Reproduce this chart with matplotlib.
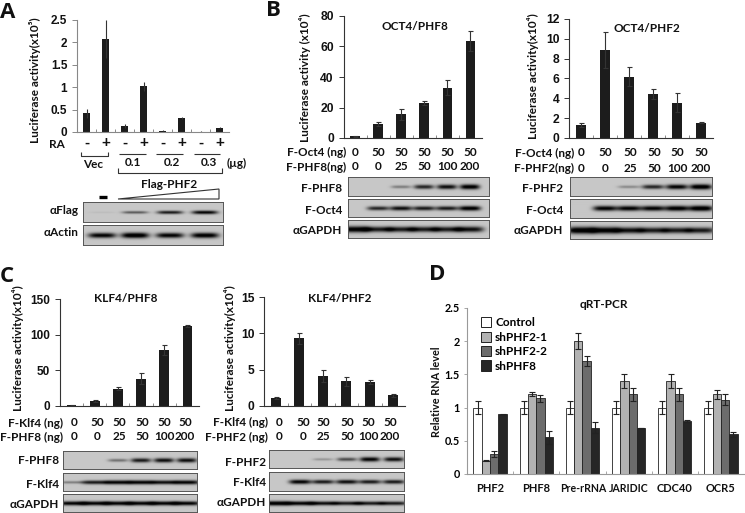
import numpy as np
import matplotlib
matplotlib.use("Agg")
import matplotlib.pyplot as plt
from matplotlib.patches import Patch, Polygon

W, H = 745, 513
SANS = ["Liberation Sans", "DejaVu Sans"]
CAL = ["Lato", "Liberation Serif", "DejaVu Sans"]
DARK = "#1c1c1c"

# panel A
a_signs = ["-", "+"] * 4
a_vals = [0.42, 2.08, 0.13, 1.02, 0.03, 0.32, 0.01, 0.10]
a_errs = [0.10, 0.42, 0.04, 0.10, 0.01, 0.02, 0.005, 0.02]
a_ticks = [0, 0.5, 1, 1.5, 2, 2.5]
a_ticklabels = ["0", "0.5", "1", "1.5", "2", "2.5"]

# panel B
b1_vals = [1, 9.3, 15.5, 23, 33, 63.5]
b1_errs = [0.5, 1.3, 3.5, 1.3, 5, 6.5]
b2_vals = [1.35, 8.9, 6.2, 4.4, 3.55, 1.55]
b2_errs = [0.2, 1.8, 1.0, 0.5, 0.95, 0.05]
tf_ng = ["0", "50", "50", "50", "50", "50"]
phf_ng = ["0", "0", "25", "50", "100", "200"]

# panel C
c1_vals = [0.8, 7, 24, 38.5, 78, 112]
c1_errs = [0.3, 0.8, 2, 7.5, 7, 1.5]
c2_vals = [1.1, 9.3, 4.1, 3.4, 3.3, 1.5]
c2_errs = [0.2, 0.7, 0.8, 0.6, 0.3, 0.2]

# panel D
d_genes = ["PHF2", "PHF8", "Pre-rRNA", "JARIDIC", "CDC40", "OCR5"]
d_names = ["Control", "shPHF2-1", "shPHF2-2", "shPHF8"]
d_colors = ["white", "#b2b2b2", "#6c6c6c", "#262626"]
d_control = [1, 1, 1, 1, 1, 1]
d_sh21 = [0.2, 1.2, 2.0, 1.4, 1.4, 1.2]
d_sh22 = [0.3, 1.14, 1.7, 1.2, 1.2, 1.12]
d_sh8 = [0.9, 0.55, 0.7, 0.7, 0.8, 0.6]
d_control_err = [0.1, 0.1, 0.1, 0.1, 0.1, 0.1]
d_sh21_err = [0.01, 0.03, 0.12, 0.1, 0.1, 0.07]
d_sh22_err = [0.04, 0.05, 0.07, 0.1, 0.1, 0.08]
d_sh8_err = [0.01, 0.1, 0.08, 0, 0.02, 0.04]

# band strength per lane in the blots
a_flag = [0.05, 0.45, 0.7, 0.8]
a_actin = [0.8, 0.9, 0.8, 0.85]
b1_phf = [0, 0, 0.3, 0.65, 0.75, 0.85]
b1_oct = [0, 0.65, 0.75, 0.7, 0.7, 0.85]
b1_gapdh = [0.85, 0.7, 0.7, 0.7, 0.7, 0.75]
b2_phf = [0, 0, 0.25, 0.65, 0.8, 0.9]
b2_oct = [0, 0.8, 0.8, 0.8, 0.85, 0.9]
b2_gapdh = [0.9, 0.85, 0.75, 0.7, 0.7, 0.7]
c1_phf = [0, 0, 0.35, 0.7, 0.75, 0.75]
c1_klf = [0.3, 0.7, 0.8, 0.8, 0.75, 0.8]
c1_gapdh = [0.8, 0.8, 0.8, 0.8, 0.8, 0.8]
c2_phf = [0, 0, 0.2, 0.5, 0.8, 0.75]
c2_klf = [0, 0.8, 0.7, 0.75, 0.7, 0.7]
c2_gapdh = [0.9, 0.8, 0.75, 0.7, 0.7, 0.7]

fig = plt.figure(figsize=(W / 100, H / 100), dpi=100, facecolor="white")


def px_axes(l, t, r, b):
    return fig.add_axes([l / W, 1 - b / H, (r - l) / W, (b - t) / H])


def bar_panel(box, vals, errs, ymax, ticks, ticklabels=None, size=8.7, width=0.42, spine="#333333", capsize=1.8):
    ax = px_axes(*box)
    x = np.arange(len(vals))
    ax.bar(x, vals, width=width, color=DARK, yerr=errs, capsize=capsize,
           error_kw={"ecolor": "#333333", "elinewidth": 0.8, "capthick": 0.8})
    ax.set_xlim(-0.5, len(vals) - 0.5)
    ax.set_ylim(0, ymax)
    ax.set_xticks(x[:-1] + 0.5)
    ax.set_xticklabels([])
    ax.tick_params(axis="x", direction="in", length=2.5, width=0.6, color="#777777")
    ax.set_yticks(ticks)
    ax.set_yticklabels(ticklabels if ticklabels else [str(t) for t in ticks])
    ax.tick_params(axis="y", length=3.5, width=0.7, color=spine, pad=3.5)
    for lab in ax.get_yticklabels():
        lab.set_fontfamily(SANS)
        lab.set_fontweight("bold")
        lab.set_fontsize(size)
        lab.set_color("#111111")
    for s in ["top", "right"]:
        ax.spines[s].set_visible(False)
    for s in ["left", "bottom"]:
        ax.spines[s].set_color(spine)
        ax.spines[s].set_linewidth(0.8)
    return ax


def blot(box, lanes, levels, bg=0.78, thick=0.1, spread=10.0):
    l, t, r, b = box
    ax = px_axes(l, t, r, b)
    nx, ny = int(r - l) * 2, int(b - t) * 2
    xx = np.linspace(l, r, nx)
    yy = np.linspace(0, 1, ny)
    img = np.full((ny, nx), bg)
    for cx, lev in zip(lanes, levels):
        hor = np.exp(-(((xx - cx) / spread) ** 4))
        ver = np.exp(-(((yy - 0.52) / (thick * (0.5 + lev))) ** 2))
        img -= lev * np.outer(ver, hor)
    ax.imshow(img, cmap="gray", vmin=0, vmax=1, aspect="auto", interpolation="bilinear")
    ax.set_xticks([])
    ax.set_yticks([])
    for s in ax.spines.values():
        s.set_color("#555555")
        s.set_linewidth(0.7)
    return ax


# A
bar_panel((77, 20, 229, 132), a_vals, a_errs, 2.5, a_ticks, a_ticklabels, size=8.5, spine="#888888", capsize=0)
# B
bar_panel((343.5, 16, 482, 138), b1_vals, b1_errs, 80, [0, 20, 40, 60, 80])
bar_panel((569, 19, 713, 138), b2_vals, b2_errs, 12, [0, 2, 4, 6, 8, 10, 12])
# C
bar_panel((60, 299, 199, 406), c1_vals, c1_errs, 150, [0, 50, 100, 150], size=8.5)
bar_panel((264, 297, 405, 406), c2_vals, c2_errs, 15, [0, 5, 10, 15])

# D
ax_d = px_axes(467, 308, 744, 474)
d_series = [d_control, d_sh21, d_sh22, d_sh8]
d_series_err = [d_control_err, d_sh21_err, d_sh22_err, d_sh8_err]
xd = np.arange(len(d_genes))
for i, (vals, errs) in enumerate(zip(d_series, d_series_err)):
    ax_d.bar(xd + (i - 1.5) * 0.18, vals, width=0.18, color=d_colors[i], edgecolor="#222222", linewidth=0.6,
             yerr=errs, capsize=2.2, error_kw={"ecolor": "#222222", "elinewidth": 0.8, "capthick": 0.8})
ax_d.set_xlim(-0.5, 5.5)
ax_d.set_ylim(0, 2.5)
ax_d.set_xticks(xd[:-1] + 0.5)
ax_d.set_xticklabels([])
ax_d.tick_params(axis="x", direction="in", length=2, width=0.6, color="#999999")
ax_d.set_yticks([0, 0.5, 1, 1.5, 2, 2.5])
ax_d.set_yticklabels(["0", "0.5", "1", "1.5", "2", "2.5"], fontfamily=CAL, fontweight="bold", fontsize=7.8)
ax_d.tick_params(axis="y", length=2, width=0.6, color="#999999", pad=3)
for s in ["top", "right"]:
    ax_d.spines[s].set_visible(False)
for s in ["left", "bottom"]:
    ax_d.spines[s].set_color("#999999")
    ax_d.spines[s].set_linewidth(0.8)
handles = [Patch(facecolor=c, edgecolor="#222222", linewidth=0.7) for c in d_colors]
ax_d.legend(handles, d_names, loc="upper left", bbox_to_anchor=(0.05, 0.945), frameon=False, handlelength=0.85,
            handleheight=0.95, handletextpad=0.35, labelspacing=0.28, borderpad=0, borderaxespad=0,
            prop={"family": CAL, "weight": "bold", "size": 8.5})

# blots
a_lanes = [102, 135, 170, 205]
b1_lanes = [355, 378, 401, 424, 447, 470]
b2_lanes = [581, 605, 629, 653, 677, 701]
c1_lanes = [72, 95, 118, 141, 164, 187]
c2_lanes = [276, 300, 323, 347, 370, 394]
blot((83, 202, 223, 222), a_lanes, a_flag, spread=13, thick=0.07)
blot((83, 225, 223, 245), a_lanes, a_actin, spread=14)
blot((348, 177, 489, 196), b1_lanes, b1_phf)
blot((348, 199, 489, 217), b1_lanes, b1_oct, spread=11)
blot((348, 220, 489, 238), b1_lanes, b1_gapdh, spread=14, thick=0.13)
blot((570, 177, 712, 196), b2_lanes, b2_phf, spread=11)
blot((570, 199, 712, 218), b2_lanes, b2_oct, spread=12)
blot((570, 221, 712, 239), b2_lanes, b2_gapdh, spread=14, thick=0.14)
blot((63, 451, 197, 469), c1_lanes, c1_phf)
blot((63, 473, 197, 491), c1_lanes, c1_klf, spread=13, thick=0.09)
blot((63, 494, 197, 512), c1_lanes, c1_gapdh, spread=14, thick=0.09)
blot((269, 450, 404, 468), c2_lanes, c2_phf)
blot((269, 472, 404, 491), c2_lanes, c2_klf, spread=11, thick=0.09)
blot((269, 494, 404, 512), c2_lanes, c2_gapdh, spread=14, thick=0.09)

# text, brackets and row labels on a full-figure overlay
ov = fig.add_axes([0, 0, 1, 1])
ov.set_xlim(0, W)
ov.set_ylim(H, 0)
ov.axis("off")
ov.patch.set_alpha(0)


def txt(x, y, s, size=8.5, ha="center", rot=0, family=CAL):
    ov.text(x, y, s, fontsize=size, ha=ha, va="center", rotation=rot, fontweight="bold",
            family=family, color="#111111")


def line(xs, ys, lw=0.8, color="#333333"):
    ov.plot(xs, ys, color=color, lw=lw, solid_capstyle="butt")


for x, y, s in [(8, 12, "A"), (273, 10, "B"), (7, 277, "C"), (437, 275, "D")]:
    txt(x, y, s, size=16, family=["Open Sans", "DejaVu Sans"])

# y labels
txt(35, 80, "Luciferase activity(x10⁵)", rot=90)
txt(305, 78, "Luciferase activity (x10⁴)", rot=90)
txt(533, 76, "Luciferase activity(x10⁴)", rot=90)
txt(18, 348, "Luciferase activity(x10⁴)", rot=90)
txt(230, 348, "Luciferase activity(x10⁴)", rot=90)
txt(436, 392, "Relative RNA level", rot=90, size=7.8)

# chart titles
txt(415, 27, "OCT4/PHF8")
txt(647, 28, "OCT4/PHF2")
txt(126, 298, "KLF4/PHF8")
txt(340, 298, "KLF4/PHF2")
txt(604, 304, "qRT-PCR")

# panel A annotations
txt(57, 144, "RA", ha="center")
a_centres = [87, 106, 125, 144, 163, 182, 201, 220]
for x, s in zip(a_centres, a_signs):
    txt(x, 143, s, size=11, family=SANS)
line([81, 81, 108, 108], [152, 156, 156, 152])
txt(93, 164, "Vec")
for x0, x1, xt, s in [(119, 146, 133, "0.1"), (156, 183, 172, "0.2"), (194, 220, 209, "0.3")]:
    line([x0, x1], [154, 154])
    txt(xt, 163, s)
txt(237, 163, "(µg)")
line([118, 118, 222, 222], [168, 173, 173, 168])
txt(169, 184, "Flag-PHF2")
line([99, 107], [197, 197], lw=2.4, color="black")
ov.add_patch(Polygon([(118, 199), (219, 189), (219, 199)], closed=True, fc="white", ec="#333333", lw=0.8))
txt(79, 211, "αFlag", ha="right")
txt(79, 233, "αActin", ha="right")

# dose rows
for lanes, y1, y2, xr, lab1, lab2 in [
    ([355, 378, 401, 424, 447, 470], 152, 167, 346, "F-Oct4 (ng)", "F-PHF8(ng)"),
    ([581, 605, 630, 654, 677, 701], 153, 168, 574, "F-Oct4 (ng)", "F-PHF2(ng)"),
    ([74, 97, 119, 142, 164, 185], 423, 437, 63, "F-Klf4 (ng)", "F-PHF8 (ng)"),
    ([279, 303, 323, 347, 368, 390], 422, 437, 268, "F-Klf4 (ng)", "F-PHF2 (ng)"),
]:
    txt(xr, y1, lab1, ha="right")
    txt(xr, y2, lab2, ha="right")
    for x, a, b in zip(lanes, tf_ng, phf_ng):
        txt(x, y1, a)
        txt(x, y2, b)

# blot labels
for xr, y, s in [(342, 189, "F-PHF8"), (342, 210, "F-Oct4"), (342, 231, "αGAPDH"),
                 (563, 189, "F-PHF2"), (563, 210, "F-Oct4"), (563, 231, "αGAPDH"),
                 (59, 461, "F-PHF8"), (59, 484, "F-Klf4"), (59, 504, "αGAPDH"),
                 (266, 462, "F-PHF2"), (266, 483, "F-Klf4"), (266, 503, "αGAPDH")]:
    txt(xr, y, s, ha="right")

# D gene labels
d_centres = [490, 536, 583, 629, 675, 721]
for x, s, size in zip(d_centres, d_genes, [8, 8, 7.6, 7.6, 8, 8]):
    txt(x, 488, s, size=size)

fig.savefig("out.png", dpi=100)
